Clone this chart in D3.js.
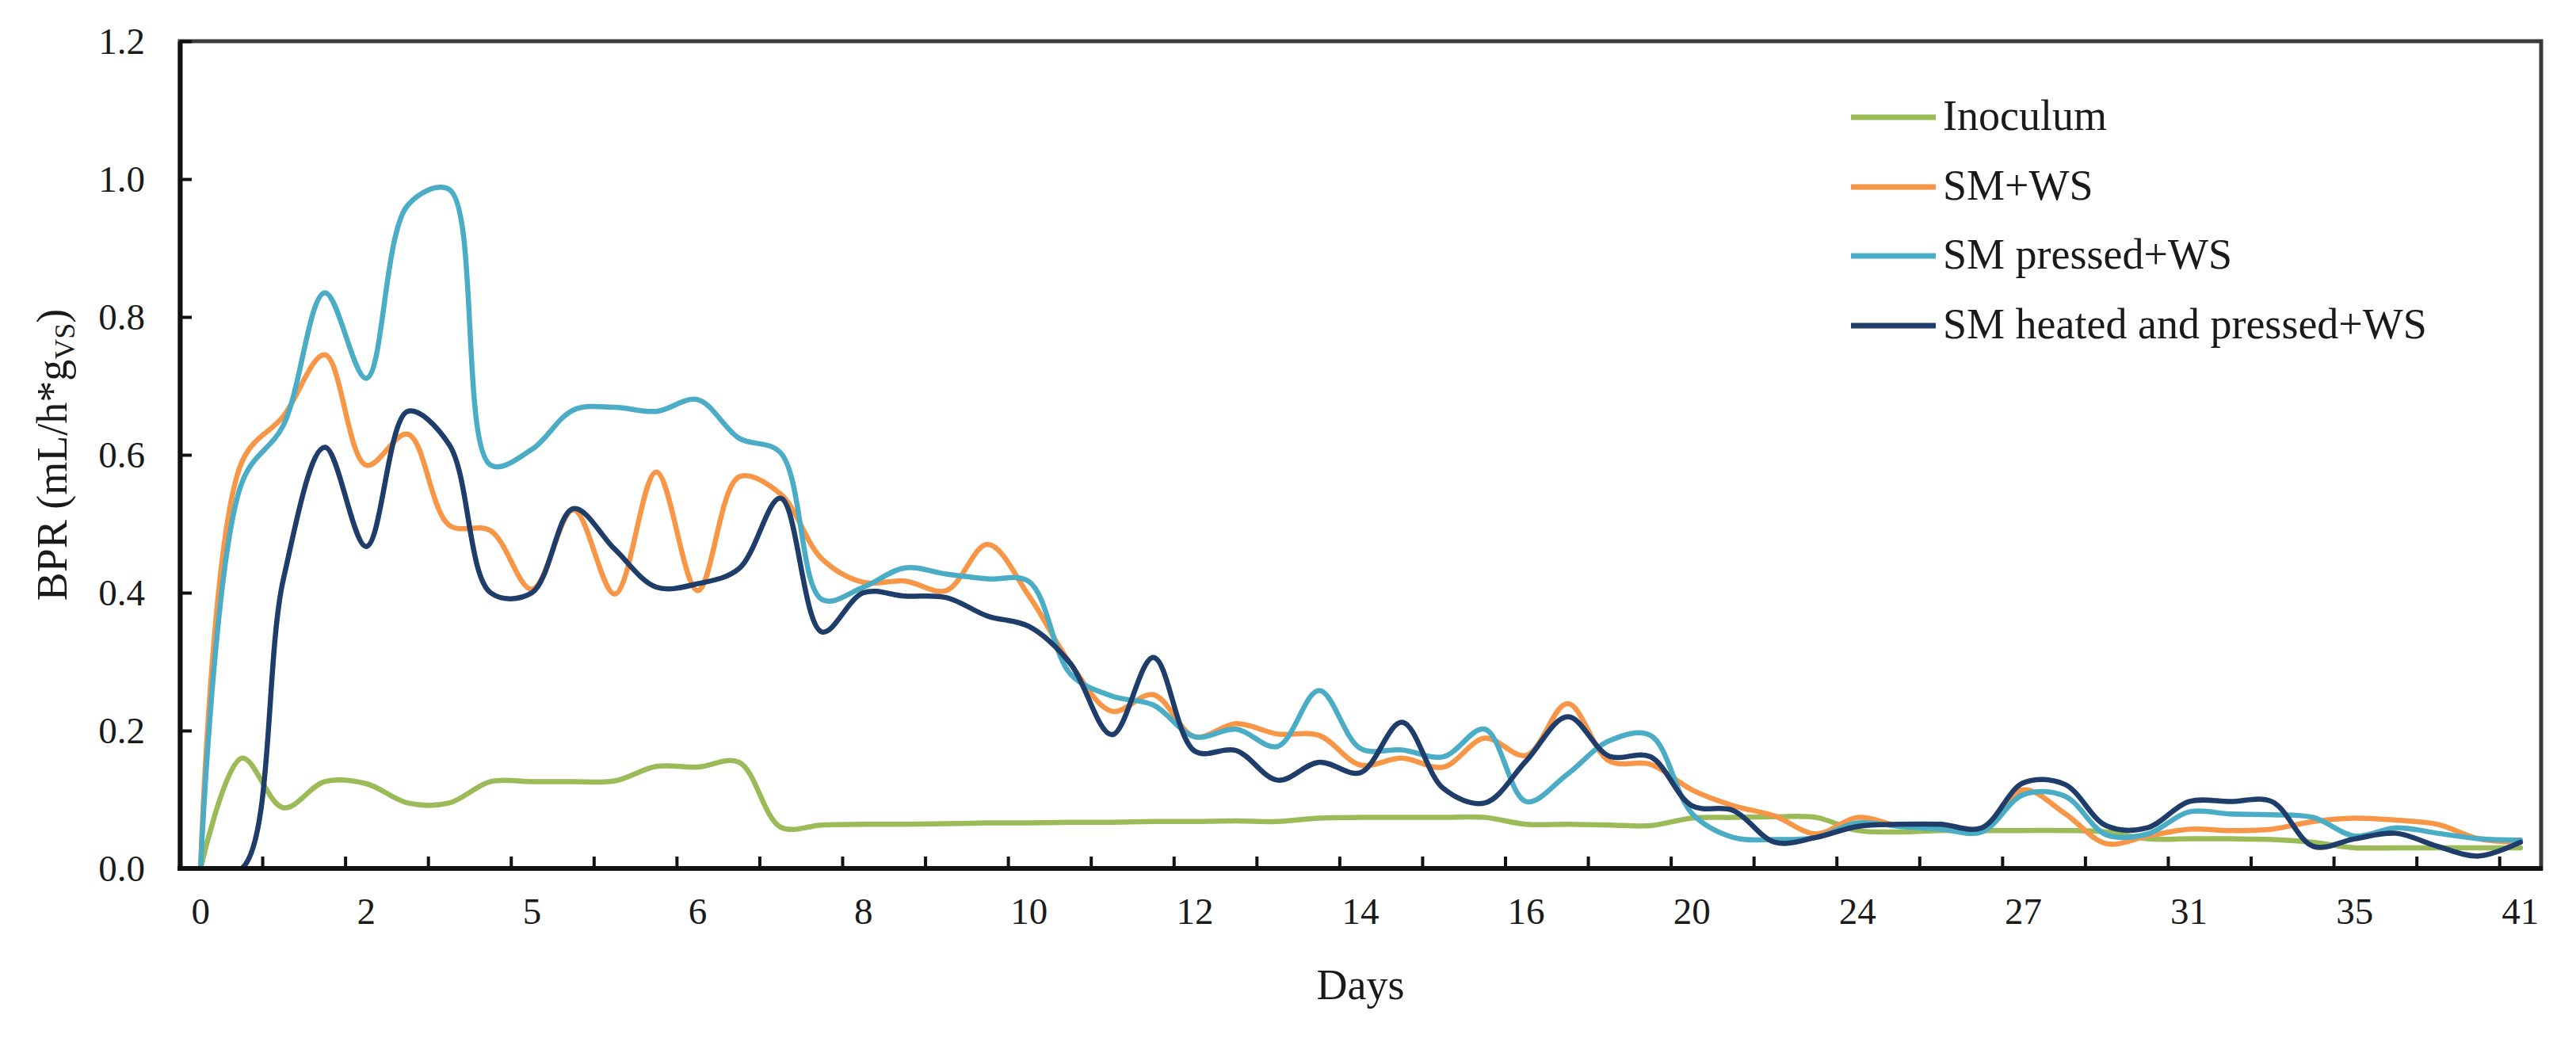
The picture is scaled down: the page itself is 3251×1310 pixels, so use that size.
<!DOCTYPE html>
<html>
<head>
<meta charset="utf-8">
<script src="https://cdn.jsdelivr.net/npm/d3@7"></script>
<style>
  html, body { margin: 0; padding: 0; background: #fff; }
  svg { display: block; }
  text { font-family: "Liberation Serif", "DejaVu Serif", serif; fill: #1a1a1a; }
</style>
</head>
<body>
<svg id="chart" width="3251" height="1310"></svg>
<script>
// ---------- data ----------
const dayLabels = ["0","2","5","6","8","10","12","14","16","20","24","27","31","35","41"];
const labelEvery = 4;   // one day label every 4 samples
const tickEvery = 2;    // one tick mark every 2 samples
const yTicks = [0, 0.2, 0.4, 0.6, 0.8, 1.0, 1.2];

const seriesNames = ["Inoculum", "SM+WS", "SM pressed+WS", "SM heated and pressed+WS"];
const seriesColors = ["#9BBB59", "#F79646", "#4BACC6", "#1F3D6B"];

const inoculum = [0,0.16,0.088,0.126,0.123,0.095,0.095,0.126,0.126,0.126,0.127,0.148,0.147,0.154,0.06,
  0.063,0.064,0.064,0.065,0.066,0.066,0.067,0.067,0.068,0.068,0.069,0.068,0.073,0.074,0.074,0.074,0.074,
  0.064,0.064,0.063,0.062,0.073,0.074,0.075,0.074,0.055,0.053,0.055,0.055,0.055,0.055,0.053,0.043,0.043,
  0.043,0.042,0.038,0.03,0.03,0.03,0.03,0.03];
const smWs = [0,0.59,0.656,0.745,0.585,0.63,0.498,0.49,0.405,0.52,0.398,0.575,0.403,0.568,0.543,0.449,
  0.415,0.417,0.403,0.47,0.395,0.297,0.228,0.252,0.191,0.21,0.195,0.193,0.15,0.16,0.147,0.189,0.164,0.239,
  0.156,0.151,0.114,0.091,0.076,0.05,0.074,0.062,0.062,0.057,0.114,0.08,0.036,0.047,0.057,0.055,0.057,
  0.068,0.073,0.07,0.064,0.043,0.038];
const smPressed = [0,0.56,0.643,0.835,0.711,0.962,0.985,0.585,0.608,0.665,0.669,0.663,0.68,0.624,0.603,
  0.39,0.408,0.436,0.427,0.42,0.416,0.282,0.25,0.237,0.191,0.202,0.177,0.258,0.174,0.172,0.162,0.202,
  0.097,0.137,0.185,0.193,0.08,0.045,0.042,0.045,0.066,0.061,0.057,0.053,0.107,0.105,0.049,0.05,0.082,
  0.079,0.078,0.074,0.047,0.059,0.051,0.043,0.041];
const smHeated = [0,0,0.42,0.611,0.467,0.663,0.615,0.40,0.40,0.522,0.463,0.408,0.413,0.435,0.537,0.343,
  0.40,0.395,0.393,0.366,0.351,0.297,0.194,0.306,0.17,0.171,0.128,0.154,0.139,0.212,0.116,0.095,0.156,
  0.22,0.163,0.162,0.091,0.084,0.038,0.045,0.061,0.064,0.064,0.059,0.124,0.122,0.062,0.059,0.097,0.097,
  0.097,0.032,0.043,0.051,0.032,0.018,0.038];
const seriesValues = [inoculum, smWs, smPressed, smHeated];

// ---------- layout ----------
const svg = d3.select("#chart");
const plot = { left: 227, right: 3207, top: 52, bottom: 1096 };
const n = inoculum.length;

const x = d3.scaleBand().domain(d3.range(n)).range([plot.left, plot.right]).paddingInner(0).paddingOuter(0);
const xc = i => x(i) + x.bandwidth() / 2;
const y = d3.scaleLinear().domain([0, 1.2]).range([plot.bottom, plot.top]);

svg.append("rect").attr("width", 3251).attr("height", 1310).attr("fill", "#fff");

// clip
svg.append("clipPath").attr("id", "clip").append("rect")
  .attr("x", plot.left).attr("y", plot.top)
  .attr("width", plot.right - plot.left).attr("height", plot.bottom - plot.top);

// frame (top and right)
svg.append("rect")
  .attr("x", plot.left).attr("y", plot.top)
  .attr("width", plot.right - plot.left).attr("height", plot.bottom - plot.top)
  .attr("fill", "none").attr("stroke", "#3a3a3a").attr("stroke-width", 5);

// lines
const line = d3.line()
  .x((d, i) => xc(i))
  .y(d => y(d))
  .curve(d3.curveCatmullRom.alpha(0.5));

const gLines = svg.append("g").attr("clip-path", "url(#clip)");
seriesValues.forEach((vals, k) => {
  gLines.append("path")
    .datum(vals)
    .attr("d", line)
    .attr("fill", "none")
    .attr("stroke", seriesColors[k])
    .attr("stroke-width", 6.5)
    .attr("stroke-linejoin", "round")
    .attr("stroke-linecap", "round");
});

// y axis
const yAxis = d3.axisLeft(y).tickValues(yTicks).tickFormat(d3.format(".1f"))
  .tickSizeInner(-15).tickSizeOuter(0).tickPadding(44);
const gy = svg.append("g").attr("transform", `translate(${plot.left},0)`).call(yAxis);
gy.select(".domain").attr("stroke", "#111").attr("stroke-width", 6);
gy.selectAll(".tick line").attr("stroke", "#111").attr("stroke-width", 4);
gy.selectAll(".tick text").attr("font-size", 47).attr("font-family", "Liberation Serif").attr("fill", "#1a1a1a");

// x axis: ticks at band boundaries every 2 samples, labels every 4 samples
const tickIdx = d3.range(tickEvery, n, tickEvery);
const gx = svg.append("g");
gx.selectAll("line.tk").data(tickIdx).join("line")
  .attr("x1", i => x(i)).attr("x2", i => x(i))
  .attr("y1", plot.bottom).attr("y2", plot.bottom - 15)
  .attr("stroke", "#111").attr("stroke-width", 4);
gx.append("line")
  .attr("x1", plot.left - 3).attr("x2", plot.right + 2)
  .attr("y1", plot.bottom).attr("y2", plot.bottom)
  .attr("stroke", "#111").attr("stroke-width", 6);
gx.selectAll("text.lbl").data(dayLabels).join("text")
  .attr("class", "lbl")
  .attr("x", (d, j) => xc(j * labelEvery))
  .attr("y", 1166)
  .attr("text-anchor", "middle")
  .attr("font-size", 47)
  .text(d => d);

// axis titles
svg.append("text")
  .attr("x", (plot.left + plot.right) / 2).attr("y", 1261)
  .attr("text-anchor", "middle").attr("font-size", 54)
  .text("Days");

const yt = svg.append("text")
  .attr("transform", `translate(84,${(plot.top + plot.bottom) / 2}) rotate(-90)`)
  .attr("text-anchor", "middle").attr("font-size", 54);
yt.append("tspan").text("BPR (mL/h*g");
yt.append("tspan").attr("font-size", 36).attr("dy", 10).text("VS");
yt.append("tspan").attr("dy", -10).text(")");

// legend
const legend = svg.append("g");
const legRows = [148, 236, 323, 411];
seriesNames.forEach((name, k) => {
  legend.append("line")
    .attr("x1", 2336).attr("x2", 2443)
    .attr("y1", legRows[k]).attr("y2", legRows[k])
    .attr("stroke", seriesColors[k]).attr("stroke-width", 7);
  legend.append("text")
    .attr("x", 2452).attr("y", legRows[k] + 16)
    .attr("font-size", 54)
    .text(name);
});
</script>
</body>
</html>
